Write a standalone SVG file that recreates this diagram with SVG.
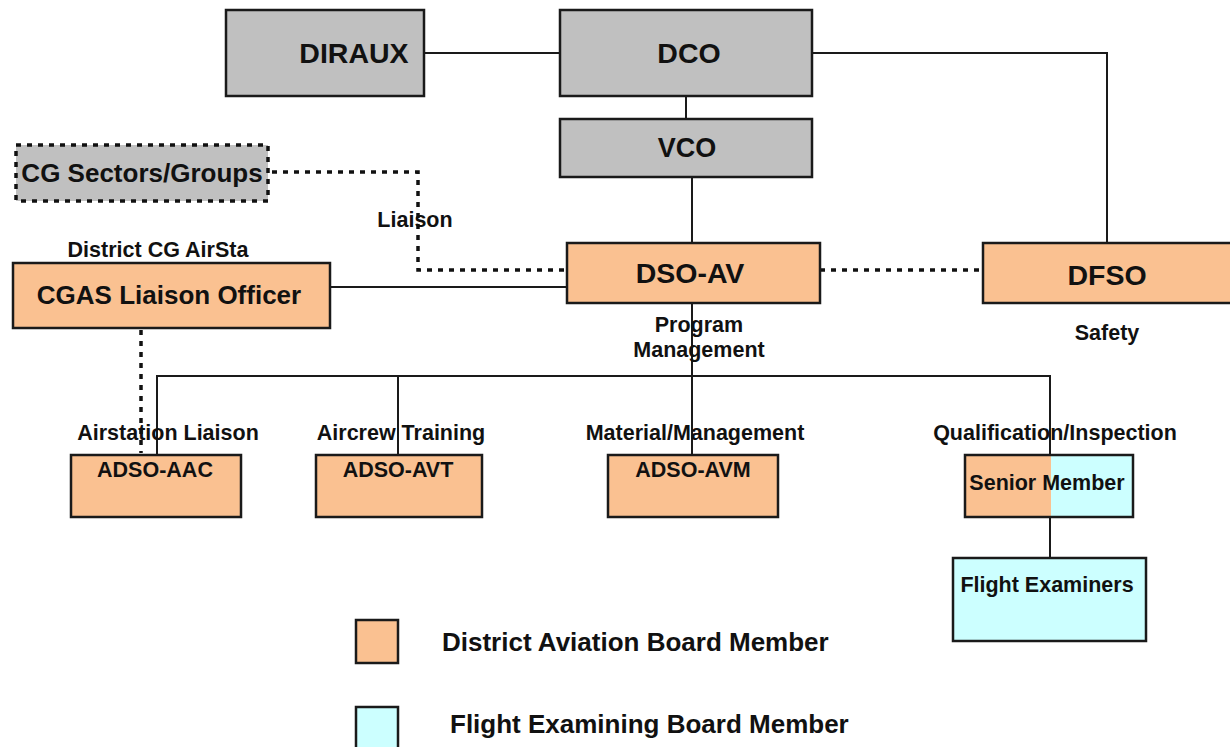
<svg xmlns="http://www.w3.org/2000/svg" width="1230" height="747" viewBox="0 0 1230 747">
<style>
text{font-family:"Liberation Sans",Arial,sans-serif;font-weight:bold;fill:#111;text-anchor:middle;dominant-baseline:central}
.box{stroke:#1a1a1a;stroke-width:2.5}
.gray{fill:#c0c0c0}
.org{fill:#fac191}
.cyan{fill:#ccffff}
.ln{stroke:#1a1a1a;stroke-width:2;fill:none}
.dot{stroke:#111;stroke-width:3.5;fill:none;stroke-dasharray:5 6}
.big{font-size:28.5px}
.mid{font-size:26px}
.sm{font-size:21.5px}
.leg{font-size:26px;text-anchor:start}
</style>
<rect width="1230" height="747" fill="#fff"/>
<g id="connectors">
<line class="ln" x1="424" y1="53" x2="560" y2="53"/>
<polyline class="ln" points="812,53 1107,53 1107,243"/>
<line class="ln" x1="686" y1="96" x2="686" y2="119"/>
<line class="ln" x1="692" y1="177" x2="692" y2="376"/>
<line class="ln" x1="330" y1="287" x2="567" y2="287"/>
<polyline class="ln" points="157,455 157,376 1050,376 1050,455"/>
<line class="ln" x1="398" y1="376" x2="398" y2="455"/>
<line class="ln" x1="692" y1="376" x2="692" y2="455"/>
<line class="ln" x1="1050" y1="517" x2="1050" y2="558"/>
<polyline class="dot" points="272,172 418,172 418,270 567,270"/>
<line class="dot" x1="820" y1="270" x2="983" y2="270"/>
<line class="dot" x1="141" y1="330" x2="141" y2="453"/>
</g>
<g id="diraux"><rect class="box gray" x="226" y="10" width="198" height="86"/><text class="big" x="354" y="53">DIRAUX</text></g>
<g id="dco"><rect class="box gray" x="560" y="10" width="252" height="86"/><text class="big" x="689" y="53">DCO</text></g>
<g id="vco"><rect class="box gray" x="560" y="119" width="252" height="58"/><text class="big" x="687" y="148" style="font-size:27px">VCO</text></g>
<g id="cg-sectors"><rect class="gray" x="16" y="145" width="252" height="56"/><rect class="dot" x="16" y="145" width="252" height="56"/><text class="mid" x="142" y="173">CG Sectors/Groups</text></g>
<g id="liaison-label"><text class="sm" x="415" y="220">Liaison</text></g>
<g id="cgas"><text class="sm" x="158" y="250">District CG AirSta</text><rect class="box org" x="13" y="263" width="317" height="65"/><text class="mid" x="169" y="295">CGAS Liaison Officer</text></g>
<g id="dso-av"><rect class="box org" x="567" y="243" width="253" height="60"/><text class="big" x="690" y="273">DSO-AV</text><text class="sm" x="699" y="325">Program</text><text class="sm" x="699" y="350">Management</text></g>
<g id="dfso"><rect class="box org" x="983" y="243" width="250" height="60"/><text class="big" x="1107" y="275">DFSO</text><text class="sm" x="1107" y="333">Safety</text></g>
<g id="adso-aac"><text class="sm" x="168" y="433">Airstation Liaison</text><rect class="box org" x="71" y="455" width="170" height="62"/><text class="sm" x="155" y="470">ADSO-AAC</text></g>
<g id="adso-avt"><text class="sm" x="401" y="433">Aircrew Training</text><rect class="box org" x="316" y="455" width="166" height="62"/><text class="sm" x="398" y="470">ADSO-AVT</text></g>
<g id="adso-avm"><text class="sm" x="695" y="433">Material/Management</text><rect class="box org" x="608" y="455" width="170" height="62"/><text class="sm" x="693" y="470">ADSO-AVM</text></g>
<g id="senior-member"><text class="sm" x="1055" y="433">Qualification/Inspection</text><rect class="org" x="965" y="455" width="86" height="62"/><rect class="cyan" x="1051" y="455" width="82" height="62"/><rect class="box" fill="none" x="965" y="455" width="168" height="62"/><text class="sm" x="1047" y="483">Senior Member</text></g>
<g id="flight-examiners"><rect class="box cyan" x="953" y="558" width="193" height="83"/><text class="sm" x="1047" y="585">Flight Examiners</text></g>
<g id="legend">
<rect class="box org" x="356" y="620" width="42" height="43"/><text class="leg" x="442" y="642">District Aviation Board Member</text>
<rect class="box cyan" x="356" y="707" width="42" height="43"/><text class="leg" x="450" y="724">Flight Examining Board Member</text>
</g>
</svg>
